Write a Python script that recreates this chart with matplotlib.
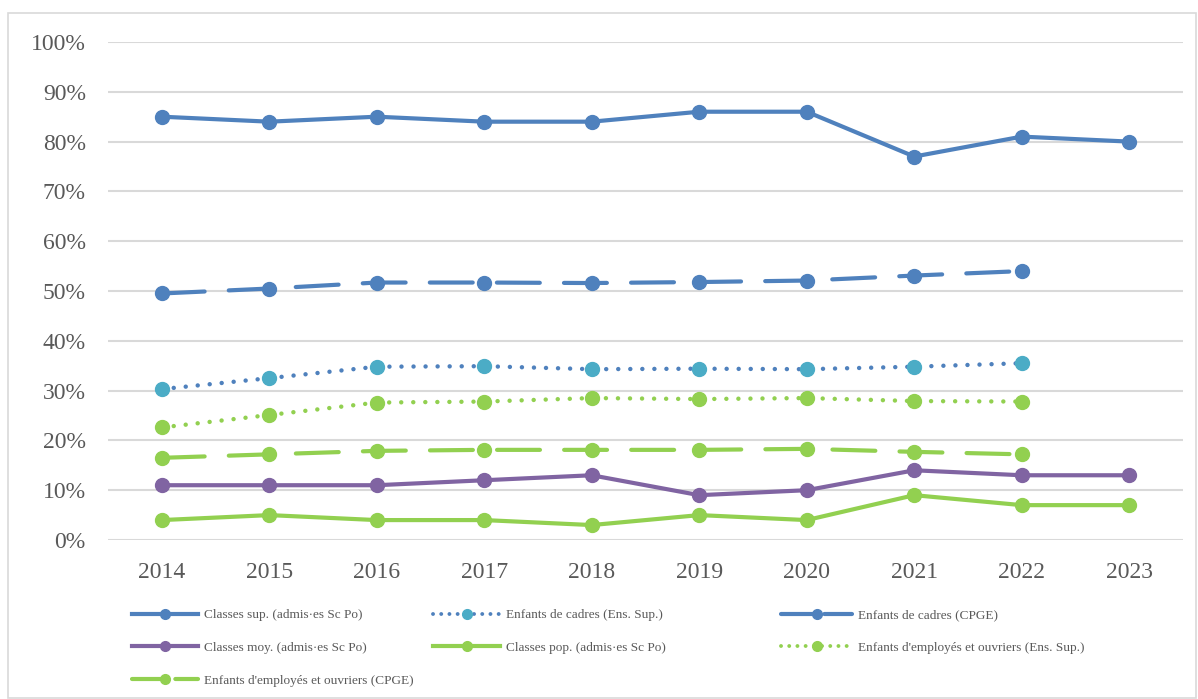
import numpy as np
import matplotlib.pyplot as plt
from matplotlib.patches import Rectangle
from matplotlib.lines import Line2D

# ---------------------------------------------------------------------
# Data (percent)
# ---------------------------------------------------------------------
years = ["2014", "2015", "2016", "2017", "2018", "2019", "2020", "2021", "2022", "2023"]

classes_sup = [85, 84, 85, 84, 84, 86, 86, 77, 81, 80]
classes_moy = [11, 11, 11, 12, 13, 9, 10, 14, 13, 13]
classes_pop = [4, 5, 4, 4, 3, 5, 4, 9, 7, 7]

# the "Enfants de ..." series stop in 2022
cadres_ens_sup = [30.3, 32.5, 34.8, 34.9, 34.3, 34.4, 34.3, 34.8, 35.5]
cadres_cpge = [49.5, 50.5, 51.7, 51.7, 51.6, 51.8, 52.1, 53.1, 54.0]
employes_ens_sup = [22.6, 25.1, 27.6, 27.8, 28.5, 28.3, 28.5, 27.9, 27.8]
employes_cpge = [16.5, 17.2, 17.9, 18.1, 18.1, 18.1, 18.3, 17.7, 17.2]

BLUE = "#4F81BD"
CYAN = "#4BACC6"
PURPLE = "#8064A2"
GREEN = "#92D050"
GREY_TXT = "#595959"
GRID = "#D9D9D9"

plt.rcParams["font.family"] = ["Liberation Serif", "DejaVu Serif"]

fig = plt.figure(figsize=(11.98, 6.99), dpi=100)
W, H = 1198, 699
ax = fig.add_axes([108 / W, 1 - 540 / H, (1183 - 108) / W, (540 - 42) / H])

x = np.arange(len(years))
x9 = x[:9]

def pct(v):
    return np.array(v) / 100.0

lw = 3.0
ms = 10
dash = dict(linestyle=(0, (10.3, 5.8)), dash_capstyle="round")
dot = dict(linestyle=(0, (0.01, 2.7)), dash_capstyle="round")

ax.plot(x, pct(classes_sup), color=BLUE, lw=lw, marker="o", ms=ms, solid_capstyle="round")
ax.plot(x9, pct(cadres_ens_sup), color=BLUE, lw=3.2, marker="o", ms=ms,
        mfc=CYAN, mec=CYAN, **dot)
ax.plot(x9, pct(cadres_cpge), color=BLUE, lw=lw, marker="o", ms=ms, **dash)
ax.plot(x, pct(classes_moy), color=PURPLE, lw=lw, marker="o", ms=ms, solid_capstyle="round")
ax.plot(x, pct(classes_pop), color=GREEN, lw=lw, marker="o", ms=ms, solid_capstyle="round")
ax.plot(x9, pct(employes_ens_sup), color=GREEN, lw=3.2, marker="o", ms=ms, **dot)
ax.plot(x9, pct(employes_cpge), color=GREEN, lw=lw, marker="o", ms=ms, **dash)

# axes styling
ax.set_xlim(-0.5, len(years) - 0.5)
ax.set_ylim(0, 1)
yt = np.arange(0, 1.01, 0.1)
ax.set_yticks(yt)
ax.set_yticklabels([f"{int(round(t * 100))}%" for t in yt])
ax.set_xticks(x)
ax.set_xticklabels(years)
ax.tick_params(length=0, labelsize=17, colors=GREY_TXT)
ax.tick_params(axis="y", pad=16)
ax.tick_params(axis="x", pad=16)
for s in ax.spines.values():
    s.set_visible(False)
ax.yaxis.grid(True, color=GRID, lw=1.5)
ax.set_axisbelow(True)

# legend proxies (Excel-like short patterns)
leg_dash = dict(linestyle=(0, (8.2, 2.2)), dash_capstyle="round")
leg_dot = dict(linestyle=(0, (0.01, 2.1)), dash_capstyle="round")
lms = 7
h_sup = Line2D([], [], color=BLUE, lw=lw, marker="o", ms=lms, label="Classes sup. (admis·es Sc Po)")
h_moy = Line2D([], [], color=PURPLE, lw=lw, marker="o", ms=lms, label="Classes moy. (admis·es Sc Po)")
h_emp_cp = Line2D([], [], color=GREEN, lw=lw, marker="o", ms=lms,
                  label="Enfants d'employés et ouvriers (CPGE)", **leg_dash)
h_cad_es = Line2D([], [], color=BLUE, lw=2.8, marker="o", ms=lms, mfc=CYAN, mec=CYAN,
                  label="Enfants de cadres (Ens. Sup.)", **leg_dot)
h_pop = Line2D([], [], color=GREEN, lw=lw, marker="o", ms=lms, label="Classes pop. (admis·es Sc Po)")
h_cad_cp = Line2D([], [], color=BLUE, lw=lw, marker="o", ms=lms,
                  label="Enfants de cadres (CPGE)", **leg_dash)
h_emp_es = Line2D([], [], color=GREEN, lw=2.8, marker="o", ms=lms,
                  label="Enfants d'employés et ouvriers (Ens. Sup.)", **leg_dot)

cols = [([h_sup, h_moy, h_emp_cp], 132, 5.0),
        ([h_cad_es, h_pop], 433, 5.1),
        ([h_cad_cp, h_emp_es], 781, 5.4)]
for handles, xpx, hl in cols:
    leg = fig.legend(handles=handles, loc="upper left",
                     bbox_to_anchor=(xpx / W, 1 - 609 / H),
                     frameon=False, fontsize=9.5, handlelength=hl,
                     handletextpad=0.45, borderpad=0, borderaxespad=0,
                     labelspacing=1.55)
    for t in leg.get_texts():
        t.set_color(GREY_TXT)

# outer chart border
fig.patches.append(Rectangle((8 / W, 1 / H), (1196 - 8) / W, (698 - 13) / H,
                             transform=fig.transFigure, fill=False,
                             edgecolor=GRID, lw=1.2))

fig.savefig("out.png", dpi=100)
